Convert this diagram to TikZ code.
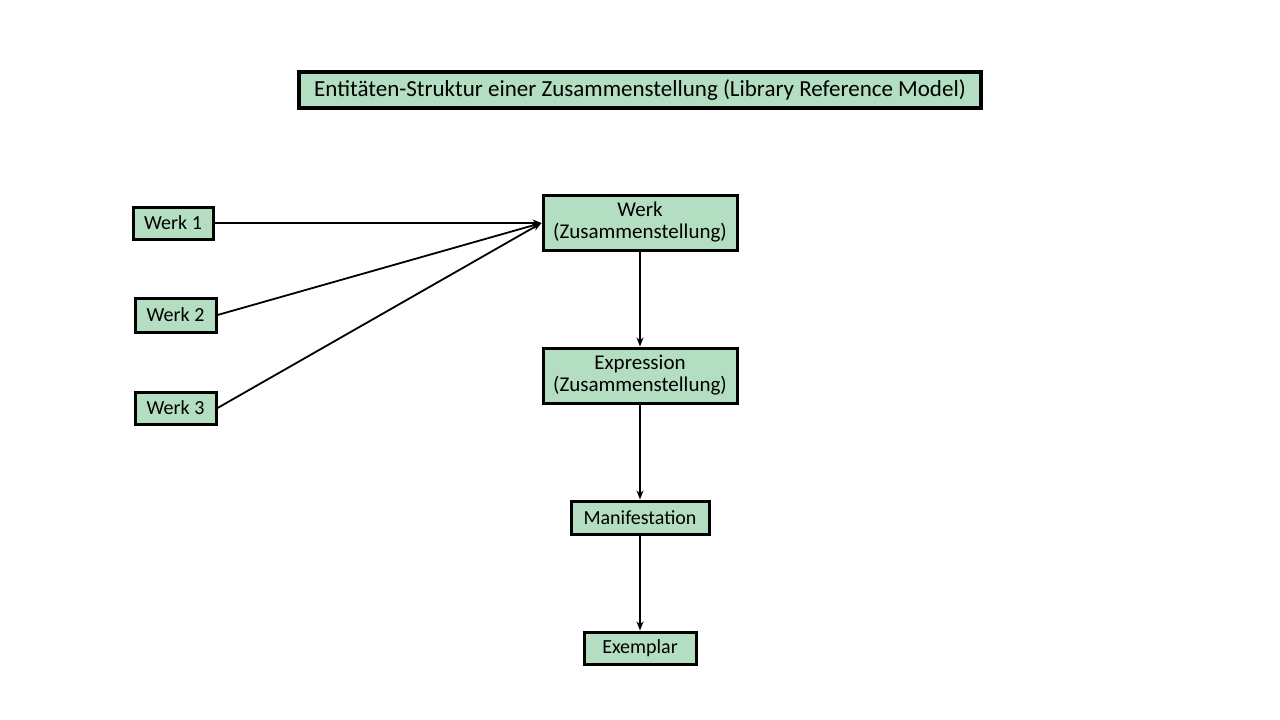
\documentclass[tikz,border=0pt]{standalone}
\usepackage{fontspec}
\setmainfont{Carlito}
\usetikzlibrary{arrows.meta}
\definecolor{boxgreen}{RGB}{179,222,193}
\begin{document}
\begin{tikzpicture}[x=1pt,y=-1pt,
  box/.style={draw=black, fill=boxgreen, line width=3pt, inner sep=0pt, align=center, font=\fontsize{20}{22}\selectfont},
  twoline/.style={box, font=\fontsize{21}{22}\selectfont, text depth=4pt},
  titlebox/.style={box, line width=4pt, font=\fontsize{23}{25}\selectfont},
  conn/.style={line width=1.8pt, -{Stealth[length=9pt,width=7pt]}}]
\useasboundingbox (0,0) rectangle (1280,720);
\node[titlebox, minimum width=682pt, minimum height=36pt] (title) at (640,90) {Entitäten-Struktur einer Zusammenstellung (Library Reference Model)};
\node[box, minimum width=80pt, minimum height=32pt] (w1) at (173,223) {Werk 1};
\node[box, minimum width=81pt, minimum height=34pt] (w2) at (175.5,315) {Werk 2};
\node[box, minimum width=81pt, minimum height=32pt] (w3) at (175.5,408) {Werk 3};
\node[twoline, minimum width=194pt, minimum height=55pt] (wz) at (640,222.5) {Werk\\(Zusammenstellung)};
\node[twoline, minimum width=194pt, minimum height=55pt] (ez) at (640,375.5) {Expression\\(Zusammenstellung)};
\node[box, minimum width=138pt, minimum height=33pt] (man) at (640,517.5) {Manifestation};
\node[box, minimum width=112pt, minimum height=32pt] (ex) at (640,648) {Exemplar};
\draw[conn] (w1.east) -- (wz.west |- w1.east);
\draw[conn] (w2.east) -- (wz.west |- w1.east);
\draw[conn] (w3.east) -- (wz.west |- w1.east);
\draw[conn] (wz.south) -- (ez.north);
\draw[conn] (ez.south) -- (man.north);
\draw[conn] (man.south) -- (ex.north);
\end{tikzpicture}
\end{document}
